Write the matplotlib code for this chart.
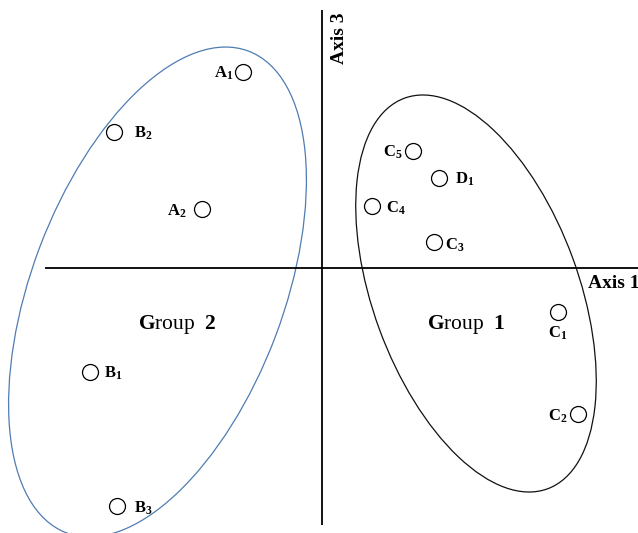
import matplotlib
matplotlib.use("Agg")
import matplotlib.pyplot as plt
from matplotlib.patches import Ellipse

plt.rcParams['mathtext.fontset'] = 'custom'
plt.rcParams['mathtext.rm'] = 'Liberation Serif'
plt.rcParams['mathtext.bf'] = 'Liberation Serif:bold'
plt.rcParams['mathtext.it'] = 'Liberation Serif:italic'
plt.rcParams['font.family'] = ['Liberation Serif', 'DejaVu Serif']

# ---- data (scores on Axis 1 / Axis 3) ----
letters = ['A', 'B', 'A', 'B', 'B', 'C', 'D', 'C', 'C', 'C', 'C']
subscripts = ['1', '2', '2', '1', '3', '5', '1', '4', '3', '1', '2']
axis1 = [-0.79, -2.08, -1.20, -2.32, -2.05, 0.91, 1.17, 0.50, 1.12, 2.36, 2.56]
axis3 = [1.96, 1.36, 0.59, -1.04, -2.38, 1.17, 0.90, 0.62, 0.26, -0.44, -1.46]

group_names = ['Group 2', 'Group 1']
group_numbers = ['2', '1']
group_centers_x = [-1.645, 1.54]
group_centers_y = [-0.24, -0.255]
group_widths = [5.15, 4.16]
group_heights = [2.52, 2.06]
group_angles = [69.3, 110.1]
group_label_x = [-1.45, 1.44]
group_label_y = [-0.56, -0.56]
group_colors = ['#4f7cb1', '#111111']

# label placement (pixel offsets, alignment)
label_dx = [-10, 20, -15, 14, 17, -10, 16, 14, 11, 0, -10]
label_dy = [-1, -1, -2, -1, -2, -1, -1, -2, -3, -21, -2]
label_ha = ['right', 'left', 'right', 'left', 'left', 'right', 'left', 'left',
            'left', 'center', 'right']

fig = plt.figure(figsize=(6.38, 5.33), dpi=100)
ax = fig.add_axes([0, 0, 1, 1])
ax.set_xlim(-3.22, 3.16)
ax.set_ylim(-2.65, 2.68)
ax.axis('off')

# axes lines
ax.plot([-2.77, 3.16], [0, 0], color='black', lw=1.3, solid_capstyle='butt')
ax.plot([0, 0], [-2.57, 2.58], color='black', lw=1.3, solid_capstyle='butt')
ax.text(3.17, -0.15, 'Axis 1', fontsize=14, fontweight='bold', ha='right', va='center')
ax.text(0.17, 2.56, 'Axis 3', fontsize=14, fontweight='bold', rotation=90,
        ha='center', va='top')

# group ellipses
for cx, cy, w, h, a, c in zip(group_centers_x, group_centers_y, group_widths,
                              group_heights, group_angles, group_colors):
    ax.add_patch(Ellipse((cx, cy), w, h, angle=a, fill=False, edgecolor=c, lw=0.9))

for name, num, gx, gy in zip(group_names, group_numbers, group_label_x, group_label_y):
    ax.text(gx, gy, r'$\mathbf{G}\mathrm{roup}\ \ \mathbf{' + num + '}$',
            fontsize=15.5, ha='center', va='center')

# points
ax.plot(axis1, axis3, 'o', ms=11.5, mfc='white', mec='black', mew=0.9, ls='none')

for L, s, x, y, dx, dy, ha in zip(letters, subscripts, axis1, axis3,
                                  label_dx, label_dy, label_ha):
    ax.text(x + dx / 100, y + dy / 100, r'$\mathbf{' + L + r'}_\mathbf{' + s + '}$',
            fontsize=12, ha=ha, va='center')

fig.savefig('out.png', dpi=100)
